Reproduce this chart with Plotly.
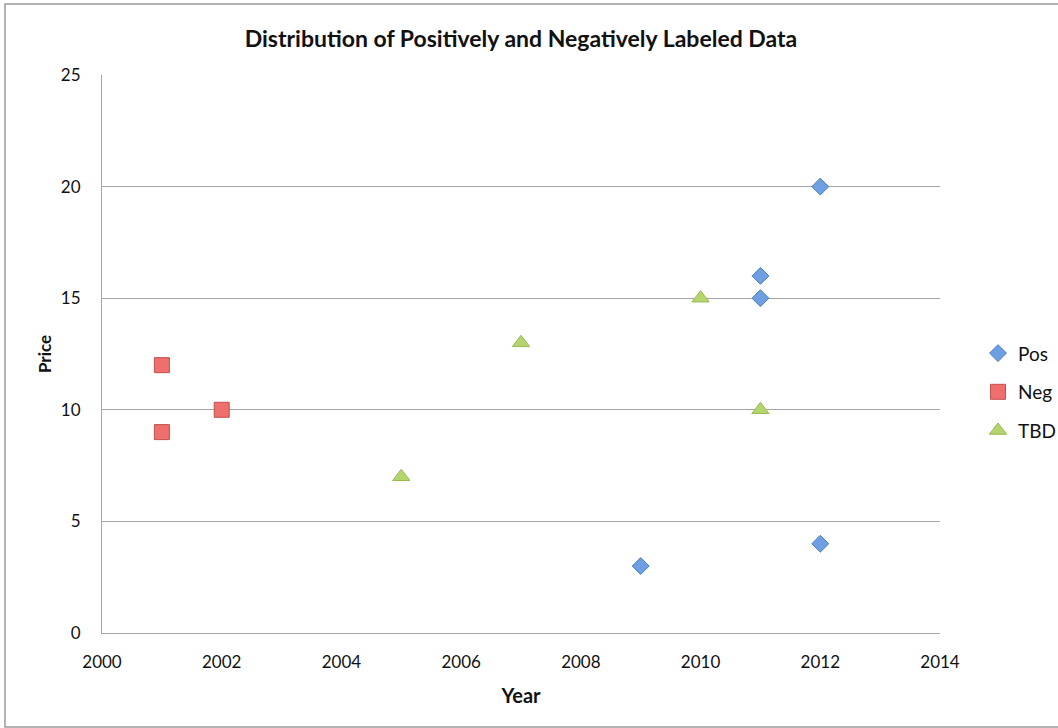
import plotly.graph_objects as go

pos_x = [2009, 2011, 2011, 2012, 2012]
pos_y = [3, 16, 15, 20, 4]
neg_x = [2001, 2001, 2002]
neg_y = [12, 9, 10]
tbd_x = [2005, 2007, 2010, 2011]
tbd_y = [7, 13, 15, 10]

W, H = 1100, 728      # slightly wider than the 1058 viewport; extra is clipped
L, T, B = 102, 75, 95
PLOT_RIGHT = 940
pw = W - L            # paper width (right margin 0)
ph = H - T - B

def px(x):
    return (x - L) / pw

def py(y):
    return (H - B - y) / ph

font = "Lato, 'Open Sans', sans-serif"

fig = go.Figure()
fig.add_trace(go.Scatter(x=pos_x, y=pos_y, mode="markers", name="Pos", legendgroup="a",
                         marker=dict(symbol="diamond", size=13, color="#6d9fe2",
                                     line=dict(color="#4a7ebb", width=1))))
fig.add_trace(go.Scatter(x=neg_x, y=neg_y, mode="markers", name="Neg", legendgroup="b",
                         marker=dict(symbol="square", size=15, color="#ee6f6d",
                                     line=dict(color="#c0504d", width=1))))
fig.add_trace(go.Scatter(x=tbd_x, y=tbd_y, mode="markers", name="TBD", legendgroup="c",
                         marker=dict(symbol="triangle-up", size=15, color="#b4d46d",
                                     line=dict(color="#98b954", width=1))))

fig.update_layout(
    width=W, height=H,
    margin=dict(l=L, r=0, t=T, b=B),
    plot_bgcolor="white", paper_bgcolor="white",
    font=dict(family=font, size=17, color="#111"),
    title=dict(text="<b>Distribution of Positively and Negatively Labeled Data</b>",
               x=px(521), xref="paper", xanchor="center", y=1 - 39 / H, yanchor="middle",
               font=dict(size=23)),
    xaxis=dict(range=[2000, 2014], tickvals=list(range(2000, 2015, 2)),
               domain=[0, px(PLOT_RIGHT)], automargin=False,
               showgrid=False, zeroline=False, showline=True, linecolor="#a6a6a6", linewidth=1,
               ticks="", tickfont=dict(size=17), ticklabelstandoff=14,
               title=dict(text="<b>Year</b>", font=dict(size=20), standoff=17)),
    yaxis=dict(range=[0, 25], tickvals=[0, 5, 10, 15, 20, 25], automargin=False,
               showgrid=True, gridcolor="#a6a6a6", gridwidth=1, zeroline=False,
               showline=True, linecolor="#a6a6a6", linewidth=1,
               ticks="", tickfont=dict(size=17), ticklabelstandoff=17,
               title=dict(text="<b>Price</b>", font=dict(size=17), standoff=4)),
    legend=dict(x=px(978), y=py(351) + 0.03, xanchor="left", yanchor="top",
                font=dict(size=19), tracegroupgap=11, itemwidth=30,
                bgcolor="rgba(0,0,0,0)"),
    shapes=[dict(type="rect", xref="paper", yref="paper",
                 x0=px(5), x1=px(1090), y0=py(727), y1=py(4),
                 line=dict(color="#9a9a9a", width=1.5), fillcolor="rgba(0,0,0,0)", layer="below")],
)

fig.write_html("out.html", config={"displayModeBar": False},
               post_script="document.body.style.margin='0';document.body.style.overflow='hidden';")
